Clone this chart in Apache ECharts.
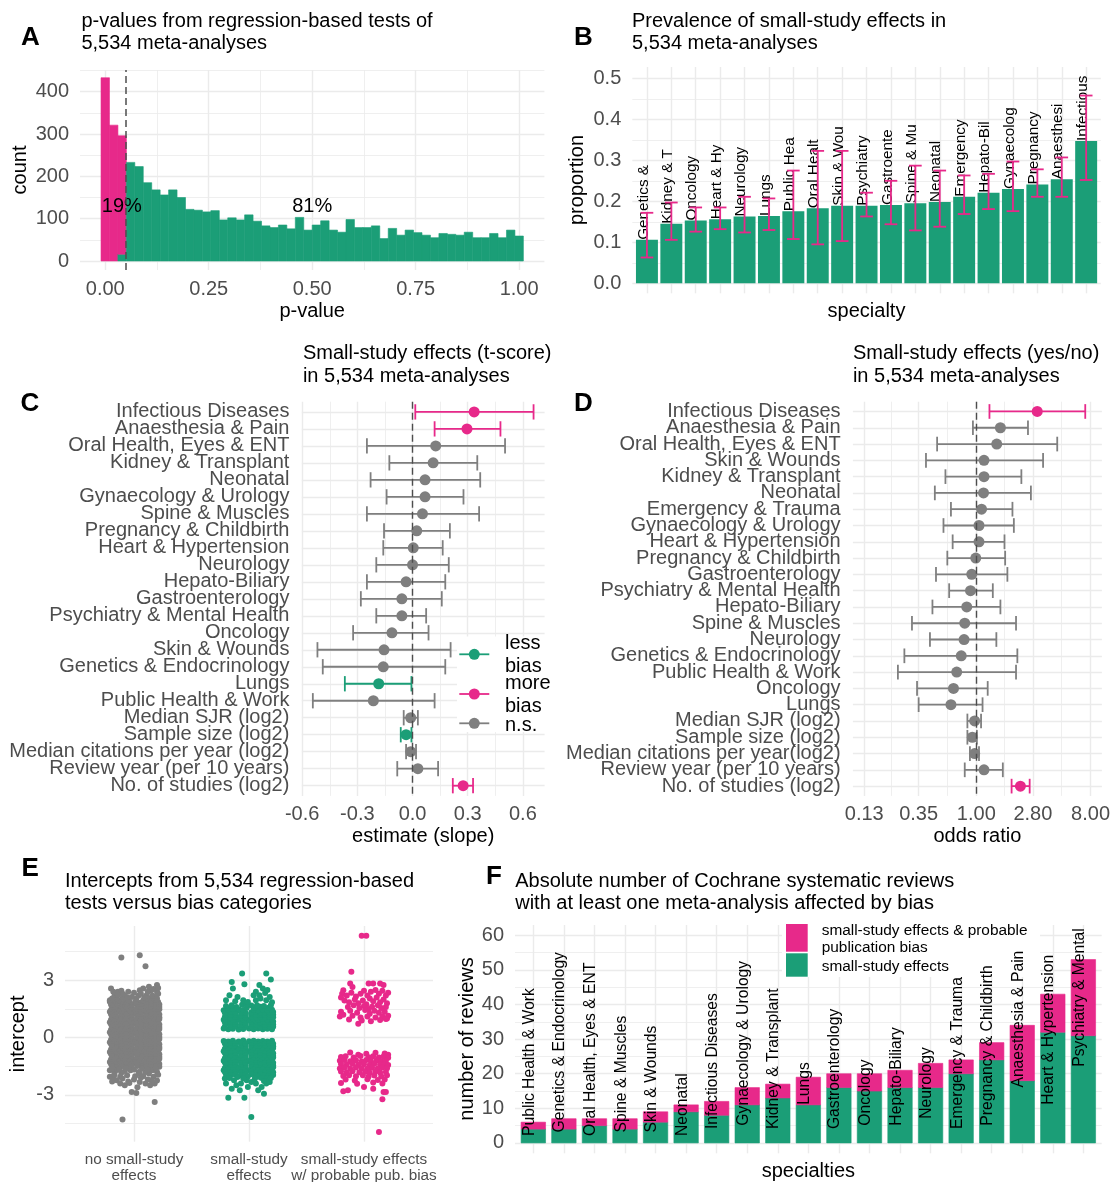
<!DOCTYPE html>
<html>
<head>
<meta charset="utf-8">
<title>Small-study effects in Cochrane meta-analyses</title>
<script src="https://cdn.jsdelivr.net/npm/echarts@6.0.0/dist/echarts.min.js"></script>
<style>
  html, body { margin: 0; padding: 0; background: #ffffff; }
  #chart { width: 1110px; height: 1182px; }
</style>
</head>
<body>
<div id="chart"></div>
<script>
// ---------------- Panel A: p-values of the regression tests (50 bins of width 1/49, centred on k/49)
const aSignificant = [433, 321, 280];   // p < 0.05, first three bins
const aNotSignificant = [0, 0, 16, 233, 223, 185, 168, 156, 168, 150, 122, 120, 116, 119, 97, 102, 97, 109, 94, 83,
  79, 85, 76, 103, 73, 85, 95, 73, 68, 98, 79, 79, 83, 53, 77, 61, 73, 67, 61, 55,
  65, 63, 61, 68, 55, 55, 65, 55, 73, 59];
const aTicksX = [0, 0.25, 0.5, 0.75, 1], aMinorX = [0.125, 0.375, 0.625, 0.875];
const aTicksY = [0, 100, 200, 300, 400], aMinorY = [50, 150, 250, 350, 450];

// ---------------- Panel B: prevalence of small-study effects by specialty
const bSpecialties = ['Genetics & Endocrinology', 'Kidney & Transplant', 'Oncology', 'Heart & Hypertension', 'Neurology',
  'Lungs', 'Public Health & Work', 'Oral Health, Eyes & ENT', 'Skin & Wounds', 'Psychiatry & Mental Health',
  'Gastroenterology', 'Spine & Muscles', 'Neonatal', 'Emergency & Trauma', 'Hepato-Biliary',
  'Gynaecology & Urology', 'Pregnancy & Childbirth', 'Anaesthesia & Pain', 'Infectious Diseases'];
const bProportion = [0.106, 0.145, 0.153, 0.156, 0.163, 0.164, 0.176, 0.183, 0.189, 0.189, 0.191, 0.195, 0.198, 0.211, 0.221, 0.230, 0.241, 0.254, 0.347];
const bLower = [0.063, 0.106, 0.126, 0.132, 0.124, 0.130, 0.108, 0.095, 0.103, 0.163, 0.144, 0.129, 0.138, 0.169, 0.181, 0.176, 0.211, 0.211, 0.252];
const bUpper = [0.172, 0.197, 0.185, 0.185, 0.211, 0.207, 0.275, 0.323, 0.323, 0.221, 0.250, 0.287, 0.275, 0.263, 0.267, 0.297, 0.278, 0.307, 0.458];
const bTicksY = [0, 0.1, 0.2, 0.3, 0.4, 0.5], bMinorY = [0.05, 0.15, 0.25, 0.35, 0.45];

// ---------------- Panel C: meta-regression of the t-score
const cLabels = ['Infectious Diseases', 'Anaesthesia & Pain', 'Oral Health, Eyes & ENT', 'Kidney & Transplant', 'Neonatal',
  'Gynaecology & Urology', 'Spine & Muscles', 'Pregnancy & Childbirth', 'Heart & Hypertension', 'Neurology',
  'Hepato-Biliary', 'Gastroenterology', 'Psychiatry & Mental Health', 'Oncology', 'Skin & Wounds',
  'Genetics & Endocrinology', 'Lungs', 'Public Health & Work', 'Median SJR (log2)', 'Sample size (log2)',
  'Median citations per year (log2)', 'Review year (per 10 years)', 'No. of studies (log2)'];
const cEstimate = [0.335, 0.296, 0.126, 0.112, 0.068, 0.068, 0.054, 0.023, 0.004, 0.0, -0.035, -0.058, -0.058, -0.112, -0.155, -0.159, -0.184, -0.213, -0.010, -0.035, -0.010, 0.029, 0.275];
const cLower = [0.015, 0.120, -0.248, -0.126, -0.228, -0.141, -0.248, -0.155, -0.159, -0.197, -0.248, -0.281, -0.197, -0.323, -0.517, -0.488, -0.368, -0.542, -0.048, -0.064, -0.035, -0.083, 0.219];
const cUpper = [0.658, 0.478, 0.503, 0.352, 0.368, 0.277, 0.362, 0.203, 0.164, 0.197, 0.178, 0.159, 0.074, 0.087, 0.207, 0.178, -0.006, 0.120, 0.029, -0.006, 0.019, 0.139, 0.329];
const cEffect = ['more', 'more', 'ns', 'ns', 'ns', 'ns', 'ns', 'ns', 'ns', 'ns', 'ns', 'ns', 'ns', 'ns', 'ns', 'ns', 'less', 'ns', 'ns', 'less', 'ns', 'ns', 'more'];
const cTicksX = [-0.6, -0.3, 0, 0.3, 0.6], cMinorX = [-0.45, -0.15, 0.15, 0.45];

// ---------------- Panel D: logistic meta-regression (odds ratios)
const dLabels = ['Infectious Diseases', 'Anaesthesia & Pain', 'Oral Health, Eyes & ENT', 'Skin & Wounds', 'Kidney & Transplant',
  'Neonatal', 'Emergency & Trauma', 'Gynaecology & Urology', 'Heart & Hypertension', 'Pregnancy & Childbirth',
  'Gastroenterology', 'Psychiatry & Mental Health', 'Hepato-Biliary', 'Spine & Muscles', 'Neurology',
  'Genetics & Endocrinology', 'Public Health & Work', 'Oncology', 'Lungs', 'Median SJR (log2)',
  'Sample size (log2)', 'Median citations per year(log2)', 'Review year (per 10 years)', 'No. of studies (log2)'];
const dOddsRatio = [3.03, 1.55, 1.45, 1.15, 1.15, 1.14, 1.10, 1.05, 1.05, 0.99, 0.92, 0.90, 0.84, 0.81, 0.80, 0.76, 0.70, 0.66, 0.63, 0.97, 0.93, 0.97, 1.15, 2.23];
const dLower = [1.27, 0.94, 0.49, 0.40, 0.57, 0.47, 0.63, 0.55, 0.65, 0.59, 0.48, 0.61, 0.45, 0.31, 0.43, 0.27, 0.24, 0.34, 0.35, 0.85, 0.85, 0.89, 0.81, 1.90];
const dUpper = [7.26, 2.56, 4.36, 3.37, 2.27, 2.70, 1.93, 1.98, 1.67, 1.69, 1.76, 1.35, 1.55, 2.06, 1.44, 2.11, 2.06, 1.23, 1.12, 1.09, 1.01, 1.05, 1.62, 2.64];
const dEffect = ['more', 'ns', 'ns', 'ns', 'ns', 'ns', 'ns', 'ns', 'ns', 'ns', 'ns', 'ns', 'ns', 'ns', 'ns', 'ns', 'ns', 'ns', 'ns', 'ns', 'ns', 'ns', 'ns', 'more'];
const dTicksOR = [0.13, 0.35, 1, 2.8, 8];

// ---------------- Panel E: intercepts by bias category, [jitter, intercept]
const eCategories = ['no small-study\neffects', 'small-study\neffects', 'small-study effects\nw/ probable pub. bias'];
const eTicksY = [-3, 0, 3], eMinorY = [-4.5, -1.5, 1.5, 4.5];
const eNoSmallStudy = [
  [-0.21,1.88],[-0.17,1.84],[-0.13,1.89],[-0.08,1.85],[-0.04,1.86],[0.01,1.88],[0.05,1.83],[0.09,1.87],[0.13,1.84],[0.17,1.89],[0.21,1.86],
  [-0.2,1.74],[-0.16,1.71],[-0.11,1.75],[-0.07,1.72],[-0.02,1.73],[0.02,1.76],[0.06,1.71],[0.11,1.74],[0.15,1.72],[0.19,1.75],[0.22,1.73],
  [-0.19,1.58],[-0.15,1.62],[-0.11,1.57],[-0.06,1.61],[-0.02,1.6],[0.03,1.58],[0.07,1.63],[0.11,1.59],[0.15,1.62],[0.19,1.57],[0.22,1.6],
  [-0.2,1.45],[-0.16,1.49],[-0.11,1.46],[-0.07,1.48],[-0.02,1.44],[0.02,1.47],[0.06,1.5],[0.11,1.45],[0.15,1.48],[0.19,1.46],[0.22,1.49],
  [-0.21,1.36],[-0.17,1.32],[-0.13,1.35],[-0.08,1.31],[-0.04,1.34],[0.01,1.37],[0.05,1.33],[0.09,1.35],[0.13,1.32],[0.17,1.36],[0.21,1.34],
  [-0.2,1.22],[-0.16,1.19],[-0.11,1.23],[-0.07,1.2],[-0.02,1.21],[0.02,1.24],[0.06,1.19],[0.11,1.22],[0.15,1.2],[0.19,1.23],[0.22,1.21],
  [-0.19,1.1],[-0.15,1.06],[-0.11,1.09],[-0.06,1.05],[-0.02,1.08],[0.03,1.11],[0.07,1.07],[0.11,1.1],[0.15,1.05],[0.19,1.09],[0.22,1.07],
  [-0.2,0.93],[-0.16,0.97],[-0.11,0.94],[-0.07,0.96],[-0.02,0.92],[0.02,0.95],[0.06,0.98],[0.11,0.93],[0.15,0.96],[0.19,0.94],[0.22,0.97],
  [-0.21,0.8],[-0.17,0.84],[-0.13,0.81],[-0.08,0.85],[-0.04,0.82],[0.01,0.79],[0.05,0.83],[0.09,0.8],[0.13,0.84],[0.17,0.81],[0.21,0.83],
  [-0.2,0.7],[-0.16,0.67],[-0.11,0.71],[-0.07,0.68],[-0.02,0.69],[0.02,0.72],[0.06,0.67],[0.11,0.7],[0.15,0.68],[0.19,0.71],[0.22,0.69],
  [-0.19,0.58],[-0.15,0.54],[-0.11,0.57],[-0.06,0.53],[-0.02,0.56],[0.03,0.59],[0.07,0.55],[0.11,0.58],[0.15,0.53],[0.19,0.57],[0.22,0.55],
  [-0.2,0.41],[-0.16,0.45],[-0.11,0.42],[-0.07,0.44],[-0.02,0.4],[0.02,0.43],[0.06,0.46],[0.11,0.41],[0.15,0.44],[0.19,0.42],[0.22,0.45],
  [-0.21,0.28],[-0.17,0.32],[-0.13,0.29],[-0.08,0.33],[-0.04,0.3],[0.01,0.27],[0.05,0.31],[0.09,0.28],[0.13,0.32],[0.17,0.29],[0.21,0.31],
  [-0.2,0.18],[-0.16,0.15],[-0.11,0.19],[-0.07,0.16],[-0.02,0.17],[0.02,0.2],[0.06,0.15],[0.11,0.18],[0.15,0.16],[0.19,0.19],[0.22,0.17],
  [-0.19,0.06],[-0.15,0.02],[-0.11,0.05],[-0.06,0.01],[-0.02,0.04],[0.03,0.07],[0.07,0.03],[0.11,0.06],[0.15,0.01],[0.19,0.05],[0.22,0.03],
  [-0.2,-0.11],[-0.16,-0.07],[-0.11,-0.1],[-0.07,-0.08],[-0.02,-0.12],[0.02,-0.09],[0.06,-0.06],[0.11,-0.11],[0.15,-0.08],[0.19,-0.1],[0.22,-0.07],
  [-0.21,-0.24],[-0.17,-0.2],[-0.13,-0.23],[-0.08,-0.19],[-0.04,-0.22],[0.01,-0.25],[0.05,-0.21],[0.09,-0.24],[0.13,-0.2],[0.17,-0.23],[0.21,-0.21],
  [-0.2,-0.34],[-0.16,-0.37],[-0.11,-0.33],[-0.07,-0.36],[-0.02,-0.35],[0.02,-0.32],[0.06,-0.37],[0.11,-0.34],[0.15,-0.36],[0.19,-0.33],[0.22,-0.35],
  [-0.19,-0.46],[-0.15,-0.5],[-0.11,-0.47],[-0.06,-0.51],[-0.02,-0.48],[0.03,-0.45],[0.07,-0.49],[0.11,-0.46],[0.15,-0.51],[0.19,-0.47],[0.22,-0.49],
  [-0.2,-0.63],[-0.16,-0.59],[-0.11,-0.62],[-0.07,-0.6],[-0.02,-0.64],[0.02,-0.61],[0.06,-0.58],[0.11,-0.63],[0.15,-0.6],[0.19,-0.62],[0.22,-0.59],
  [-0.21,-0.76],[-0.17,-0.72],[-0.13,-0.75],[-0.08,-0.71],[-0.04,-0.74],[0.01,-0.77],[0.05,-0.73],[0.09,-0.76],[0.13,-0.72],[0.17,-0.75],[0.21,-0.73],
  [-0.2,-0.86],[-0.16,-0.89],[-0.11,-0.85],[-0.07,-0.88],[-0.02,-0.87],[0.02,-0.84],[0.06,-0.89],[0.11,-0.86],[0.15,-0.88],[0.19,-0.85],[0.22,-0.87],
  [-0.19,-0.98],[-0.15,-1.02],[-0.11,-0.99],[-0.06,-1.03],[-0.02,-1.0],[0.03,-0.97],[0.07,-1.01],[0.11,-0.98],[0.15,-1.03],[0.19,-0.99],[0.22,-1.01],
  [-0.2,-1.15],[-0.16,-1.11],[-0.11,-1.14],[-0.07,-1.12],[-0.02,-1.16],[0.02,-1.13],[0.06,-1.1],[0.11,-1.15],[0.15,-1.12],[0.19,-1.14],[0.22,-1.11],
  [-0.21,-1.28],[-0.17,-1.24],[-0.13,-1.27],[-0.08,-1.23],[-0.04,-1.26],[0.01,-1.29],[0.05,-1.25],[0.09,-1.28],[0.13,-1.24],[0.17,-1.27],[0.21,-1.25],
  [-0.2,-1.38],[-0.16,-1.41],[-0.11,-1.37],[-0.07,-1.4],[-0.02,-1.39],[0.02,-1.36],[0.06,-1.41],[0.11,-1.38],[0.15,-1.4],[0.19,-1.37],[0.22,-1.39],
  [-0.19,-1.5],[-0.15,-1.54],[-0.11,-1.51],[-0.06,-1.55],[-0.02,-1.52],[0.03,-1.49],[0.07,-1.53],[0.11,-1.5],[0.15,-1.55],[0.19,-1.51],[0.22,-1.53],
  [-0.2,2.57],[-0.14,2.4],[-0.11,2.45],[-0.05,2.4],[0.05,2.48],[0.08,2.57],[0.13,2.66],[0.15,2.48],[0.2,2.75],[0.2,2.4],
  [0.11,2.22],[0.02,2.05],[-0.08,2.22],[-0.17,2.17],[-0.13,1.96],[-0.21,1.96],[-0.05,1.96],[0.08,1.96],[0.18,2.13],[0.14,2.05],
  [-0.02,2.13],[-0.18,2.4],[0.04,2.2],[-0.1,2.08],[0.19,1.98],[0.11,2.03],[-0.15,2.06],[0.21,2.3],
  [-0.19,2.05],[-0.1,2.3],[0.0,2.35],[0.06,2.3],[0.12,2.4],[0.17,2.55],[0.21,2.6],[0.09,2.12],[-0.14,2.25],[-0.06,2.1],[0.16,2.2],[0.2,2.05],
  [-0.11,4.2],[0.05,4.32],[0.1,3.74],
  [-0.21,-1.71],[-0.18,-2.06],[-0.15,-2.24],[-0.12,-2.41],[-0.08,-2.5],[-0.04,-2.38],[-0.02,-2.85],[0.02,-2.9],[0.05,-2.33],[0.1,-2.41],
  [0.14,-2.5],[0.17,-2.06],[0.2,-1.8],[-0.17,-1.85],[0.08,-2.03],[0.01,-2.03],[-0.06,-1.98],[-0.11,-1.85],[0.13,-1.89],[0.15,-2.24],
  [-0.03,-1.71],[0.04,-1.8],[0.1,-1.8],[-0.12,-2.06],[-0.21,-2.06],[0.05,-1.89],[0.18,-2.41],[-0.08,-1.75],[0.16,-1.72],[-0.15,-1.7],
  [0.21,-1.95],[0.0,-2.2],[-0.19,-2.3],
  [-0.19,-1.63],[-0.13,-1.66],[-0.07,-1.62],[0.0,-1.68],[0.07,-1.64],[0.12,-1.67],[0.19,-1.64],[-0.17,-1.95],[-0.1,-2.15],[0.06,-2.1],
  [0.12,-2.2],[0.2,-2.25],[-0.05,-2.3],[0.03,-2.6],
  [0.18,-3.38],[-0.1,-4.29]
];
const eSmallStudy = [
  [-0.22,-0.18],[-0.18,-0.21],[-0.14,-0.17],[-0.09,-0.2],[-0.05,-0.16],[0.0,-0.19],[0.04,-0.17],[0.08,-0.21],[0.12,-0.18],[0.16,-0.2],[0.2,-0.17],
  [-0.21,-0.31],[-0.16,-0.34],[-0.12,-0.3],[-0.07,-0.33],[-0.03,-0.32],[0.02,-0.29],[0.06,-0.34],[0.1,-0.31],[0.14,-0.33],[0.18,-0.3],[0.21,-0.32],
  [-0.2,-0.43],[-0.16,-0.47],[-0.12,-0.44],[-0.07,-0.48],[-0.03,-0.45],[0.02,-0.42],[0.06,-0.46],[0.1,-0.43],[0.14,-0.48],[0.18,-0.44],[0.21,-0.46],
  [-0.21,-0.59],[-0.16,-0.55],[-0.12,-0.58],[-0.07,-0.56],[-0.03,-0.6],[0.02,-0.57],[0.06,-0.54],[0.1,-0.59],[0.14,-0.56],[0.18,-0.58],[0.21,-0.55],
  [-0.22,-0.72],[-0.18,-0.68],[-0.14,-0.71],[-0.09,-0.67],[-0.05,-0.7],[0.0,-0.73],[0.04,-0.69],[0.08,-0.72],[0.12,-0.68],[0.16,-0.71],[0.2,-0.69],
  [-0.21,-0.81],[-0.16,-0.84],[-0.12,-0.8],[-0.07,-0.83],[-0.03,-0.82],[0.02,-0.79],[0.06,-0.84],[0.1,-0.81],[0.14,-0.83],[0.18,-0.8],[0.21,-0.82],
  [-0.2,-0.93],[-0.16,-0.97],[-0.12,-0.94],[-0.07,-0.98],[-0.03,-0.95],[0.02,-0.92],[0.06,-0.96],[0.1,-0.93],[0.14,-0.98],[0.18,-0.94],[0.21,-0.96],
  [-0.21,-1.09],[-0.16,-1.05],[-0.12,-1.08],[-0.07,-1.06],[-0.03,-1.1],[0.02,-1.07],[0.06,-1.04],[0.1,-1.09],[0.14,-1.06],[0.18,-1.08],[0.21,-1.05],
  [-0.22,-1.22],[-0.18,-1.18],[-0.14,-1.21],[-0.09,-1.17],[-0.05,-1.2],[0.0,-1.23],[0.04,-1.19],[0.08,-1.22],[0.12,-1.18],[0.16,-1.21],[0.2,-1.19],
  [-0.21,-1.31],[-0.16,-1.34],[-0.12,-1.3],[-0.07,-1.33],[-0.03,-1.32],[0.02,-1.29],[0.06,-1.34],[0.1,-1.31],[0.14,-1.33],[0.18,-1.3],[0.21,-1.32],
  [-0.2,-1.43],[-0.16,-1.47],[-0.12,-1.44],[-0.07,-1.48],[-0.03,-1.45],[0.02,-1.42],[0.06,-1.46],[0.1,-1.43],[0.14,-1.48],[0.18,-1.44],[0.21,-1.46],
  [-0.21,-1.59],[-0.16,-1.55],[-0.12,-1.58],[-0.07,-1.56],[-0.03,-1.6],[0.02,-1.57],[0.06,-1.54],[0.1,-1.59],[0.14,-1.56],[0.18,-1.58],[0.21,-1.55],
  [-0.22,-1.72],[-0.18,-1.68],[-0.14,-1.71],[-0.09,-1.67],[-0.05,-1.7],[0.0,-1.73],[0.04,-1.69],[0.08,-1.72],[0.12,-1.68],[0.16,-1.71],[0.2,-1.69],
  [-0.21,-1.81],[-0.16,-1.84],[-0.12,-1.8],[-0.07,-1.83],[-0.03,-1.82],[0.02,-1.79],[0.06,-1.84],[0.1,-1.81],[0.14,-1.83],[0.18,-1.8],[0.21,-1.82],
  [-0.2,-1.93],[-0.16,-1.97],[-0.12,-1.94],[-0.07,-1.98],[-0.03,-1.95],[0.02,-1.92],[0.06,-1.96],[0.1,-1.93],[0.14,-1.98],[0.18,-1.94],[0.21,-1.96],
  [-0.19,-2.05],[-0.1,-2.07],[-0.01,-2.04],[0.08,-2.06],[0.17,-2.03],
  [-0.2,-2.41],[-0.15,-2.68],[-0.11,-2.5],[-0.07,-2.41],[-0.02,-2.24],[0.02,-2.33],[0.06,-2.41],[0.11,-2.59],[0.15,-2.41],[0.18,-2.33],
  [-0.08,-2.76],[-0.01,-2.59],[0.08,-2.76],[0.15,-2.15],[-0.21,-2.15],[0.19,-2.12],[-0.17,-2.12],[-0.05,-2.14],[0.05,-2.16],[0.11,-2.12],
  [-0.13,-2.24],[0.13,-2.28],
  [-0.18,-3.15],[-0.04,-3.15],[0.13,-2.94],[0.02,-4.16],
  [-0.22,0.47],[-0.18,0.43],[-0.14,0.46],[-0.09,0.42],[-0.05,0.45],[0.0,0.48],[0.04,0.44],[0.08,0.47],[0.12,0.43],[0.16,0.46],[0.2,0.44],
  [-0.21,0.58],[-0.16,0.55],[-0.12,0.59],[-0.07,0.56],[-0.03,0.57],[0.02,0.6],[0.06,0.55],[0.1,0.58],[0.14,0.56],[0.18,0.59],[0.21,0.57],
  [-0.2,0.72],[-0.16,0.68],[-0.12,0.71],[-0.07,0.67],[-0.03,0.7],[0.02,0.73],[0.06,0.69],[0.1,0.72],[0.14,0.67],[0.18,0.71],[0.21,0.69],
  [-0.21,0.8],[-0.16,0.84],[-0.12,0.81],[-0.07,0.83],[-0.03,0.79],[0.02,0.82],[0.06,0.85],[0.1,0.8],[0.14,0.83],[0.18,0.81],[0.21,0.84],
  [-0.22,0.93],[-0.18,0.97],[-0.14,0.94],[-0.09,0.98],[-0.05,0.95],[0.0,0.92],[0.04,0.96],[0.08,0.93],[0.12,0.97],[0.16,0.94],[0.2,0.96],
  [-0.21,1.08],[-0.16,1.05],[-0.12,1.09],[-0.07,1.06],[-0.03,1.07],[0.02,1.1],[0.06,1.05],[0.1,1.08],[0.14,1.06],[0.18,1.09],[0.21,1.07],
  [-0.2,1.22],[-0.16,1.18],[-0.12,1.21],[-0.07,1.17],[-0.03,1.2],[0.02,1.23],[0.06,1.19],[0.1,1.22],[0.14,1.18],[0.18,1.21],[0.21,1.19],
  [-0.21,1.3],[-0.16,1.34],[-0.12,1.31],[-0.07,1.33],[-0.03,1.29],[0.02,1.32],[0.06,1.35],[0.1,1.3],[0.14,1.33],[0.18,1.31],[0.21,1.34],
  [-0.22,1.43],[-0.18,1.47],[-0.09,1.48],[-0.05,1.45],[0.04,1.46],[0.08,1.43],[0.12,1.47],[0.16,1.44],[0.2,1.46],[-0.14,1.5],
  [-0.19,1.57],[-0.11,1.6],[-0.02,1.55],[0.05,1.58],[0.1,1.62],[0.17,1.56],
  [-0.2,1.66],[-0.15,1.7],[-0.06,1.72],[0.02,1.68],[0.07,1.7],[0.13,1.66],[0.19,1.7],[-0.02,1.75],
  [-0.15,2.92],[-0.06,3.36],[0.15,3.36],[0.19,3.04],[-0.04,2.8],[0.09,2.75],[0.12,2.57],[0.06,2.4],[0.04,2.22],[0.09,2.22],
  [0.14,2.34],[0.18,2.13],[-0.14,2.57],[-0.17,2.22],[-0.1,2.13],[-0.05,1.96],[-0.01,1.87],[-0.2,1.96],[0.15,1.96],[0.06,1.96],
  [0.2,1.85],[-0.12,1.9],[0.1,2.05],[0.16,2.5]
];
const eSmallStudyPubBias = [
  [-0.18,2.48],[-0.19,2.3],[-0.12,2.83],[-0.1,2.65],[0.04,2.83],[0.08,2.83],[0.14,2.83],[0.17,2.75],
  [-0.2,2.1],[-0.15,2.2],[-0.11,2.35],[-0.07,2.15],[-0.03,2.3],[0.0,2.45],[0.03,2.2],[0.06,2.4],[0.1,2.5],[0.13,2.3],[0.16,2.45],[0.19,2.2],[0.21,2.35],
  [-0.17,1.95],[-0.13,1.85],[-0.08,2.0],[-0.05,1.8],[-0.01,1.95],[0.02,1.75],[0.05,2.05],[0.08,1.9],[0.11,2.1],[0.14,1.85],[0.17,2.0],[0.2,1.8],
  [-0.14,1.6],[-0.09,1.7],[-0.04,1.55],[0.0,1.65],[0.04,1.5],[0.07,1.62],[0.12,1.7],[0.15,1.55],[0.19,1.6],
  [-0.2,1.35],[-0.12,1.4],[-0.06,1.3],[0.01,1.45],[0.05,1.25],[0.09,1.4],[0.13,1.3],[0.18,1.35],[0.21,1.15],
  [-0.21,1.1],[-0.18,1.2],[-0.1,1.15],[-0.03,1.05],[0.03,1.1],[0.1,1.05],[0.16,1.12],[0.2,1.0],
  [-0.13,0.95],[-0.02,0.9],[0.06,0.85],[0.14,0.92],[-0.05,0.73],[0.19,0.98],
  [-0.11,3.45],[-0.02,5.34],[0.02,5.34],
  [-0.12,-0.78],[0.02,-0.85],[0.1,-0.8],[0.18,-0.84],[0.21,-0.9],[-0.05,-0.9],
  [-0.2,-1.02],[-0.16,-0.98],[-0.09,-1.05],[-0.03,-0.97],[0.04,-1.03],[0.08,-0.98],[0.13,-1.04],[0.17,-0.99],[0.21,-1.06],
  [-0.21,-1.22],[-0.17,-1.18],[-0.12,-1.24],[-0.07,-1.19],[-0.02,-1.25],[0.02,-1.17],[0.06,-1.23],[0.11,-1.2],[0.15,-1.26],[0.19,-1.21],
  [-0.2,-1.38],[-0.15,-1.43],[-0.1,-1.37],[-0.05,-1.42],[0.0,-1.4],[0.05,-1.44],[0.09,-1.37],[0.14,-1.41],[0.18,-1.39],[0.21,-1.44],
  [-0.21,-1.62],[-0.17,-1.58],[-0.12,-1.63],[-0.07,-1.57],[-0.02,-1.61],[0.03,-1.64],[0.07,-1.58],[0.12,-1.62],[0.16,-1.57],[0.2,-1.61],
  [-0.2,-1.78],[-0.15,-1.83],[-0.1,-1.77],[-0.04,-1.82],[0.01,-1.79],[0.05,-1.84],[0.1,-1.78],[0.14,-1.83],[0.19,-1.8],
  [-0.18,-2.02],[-0.13,-1.97],[-0.07,-2.03],[-0.01,-1.98],[0.04,-2.04],[0.09,-1.99],[0.15,-2.03],[0.2,-1.98],
  [-0.16,-2.2],[-0.08,-2.25],[0.03,-2.18],[0.12,-2.23],[0.18,-2.2],
  [-0.2,-2.38],[-0.06,-2.42],[0.08,-2.36],[0.16,-2.41],
  [-0.18,-2.82],[-0.14,-2.76],[0.0,-2.59],[0.08,-2.68],[0.17,-2.85],[0.19,-2.85],[0.16,-3.24],[0.13,-4.95]
];

// ---------------- Panel F: reviews affected by bias, per specialty
const fSpecialties = ['Public Health & Work', 'Genetics & Endocrinology', 'Oral Health, Eyes & ENT', 'Spine & Muscles', 'Skin & Wounds',
  'Neonatal', 'Infectious Diseases', 'Gynaecology & Urology', 'Kidney & Transplant', 'Lungs', 'Gastroenterology', 'Oncology',
  'Hepato-Biliary', 'Neurology', 'Emergency & Trauma', 'Pregnancy & Childbirth', 'Anaesthesia & Pain', 'Heart & Hypertension',
  'Psychiatry & Mental'];
const fSmallStudy = [4, 4, 5, 4, 6, 9, 8, 11, 13, 11, 16, 15, 16, 16, 20, 24, 18, 32, 31];
const fPubBias = [2, 3, 2, 3, 3, 2, 4, 5, 4, 8, 4, 5, 5, 7, 4, 5, 16, 11, 22];
const fLabelBase = [2, 3, 2, 3, 3, 2, 4, 5, 4, 11, 4, 5, 5, 7, 4, 5, 16, 11, 22];
const fTicksY = [0, 10, 20, 30, 40, 50, 60], fMinorY = [5, 15, 25, 35, 45, 55];

// ---------------- styling
const FONT = "'Liberation Sans', Arial, Helvetica, sans-serif";
const PINK = '#e7298a', GREEN = '#1b9e77', GREY = '#7f7f7f', TICK_GREY = '#4d4d4d';
const EFFECT_COLOR = {more: PINK, less: GREEN, ns: GREY};

// panel rectangles in pixels (left, top, right, bottom)
const box = {
  A: {l: 80, t: 70, r: 544.4, b: 270},
  B: {l: 632.3, t: 67, r: 1100.8, b: 293.3},
  C: {l: 301.8, t: 401.7, r: 544.6, b: 795.9},
  D: {l: 852.9, t: 401.7, r: 1101.9, b: 795.9},
  E: {l: 65, t: 926, r: 433, b: 1141.7},
  F: {l: 515, t: 925, r: 1101.7, b: 1153.3}
};

const grids = [], xAxes = [], yAxes = [], series = [], elements = [];

function makeAxis(isX, gi, o, minor) {
  const labelOn = !minor && o.label;
  return {
    type: 'value', gridIndex: gi, min: o.min, max: o.max, inverse: !!o.inverse,
    position: isX ? (minor ? 'top' : 'bottom') : (minor ? 'right' : 'left'),
    axisLine: {show: false, onZero: false},
    axisTick: {show: false, customValues: o.ticks},
    axisLabel: labelOn ? Object.assign({show: true, customValues: o.ticks, color: TICK_GREY, fontFamily: FONT,
      fontSize: 20, margin: isX ? 9 : 11, showMinLabel: true, showMaxLabel: true, hideOverlap: false}, o.label) : {show: false},
    splitLine: {show: true, lineStyle: {color: '#ebebeb', width: minor ? 0.8 : 1.4}},
    splitArea: {show: false},
    silent: true
  };
}
function addPanel(b, xo, yo) {
  const gi = grids.length;
  grids.push({left: b.l, top: b.t, width: b.r - b.l, height: b.b - b.t, containLabel: false, outerBoundsMode: 'none'});
  const xi = xAxes.length;
  xAxes.push(makeAxis(true, gi, xo, false));
  if (xo.minor) xAxes.push(makeAxis(true, gi, Object.assign({}, xo, {ticks: xo.minor}), true));
  const yi = yAxes.length;
  yAxes.push(makeAxis(false, gi, yo, false));
  if (yo.minor) yAxes.push(makeAxis(false, gi, Object.assign({}, yo, {ticks: yo.minor}), true));
  return {xi, yi};
}
const indices = n => Array.from({length: n}, (_, i) => i);

function rectBetween(api, x0, x1, y0, y1, fill, seam) {
  const a = api.coord([x0, y1]), c = api.coord([x1, y0]);
  const style = {fill};
  if (seam) { style.stroke = fill; style.lineWidth = 0.6; }
  return {type: 'rect', shape: {x: Math.min(a[0], c[0]), y: Math.min(a[1], c[1]),
    width: Math.abs(c[0] - a[0]), height: Math.abs(c[1] - a[1])}, style};
}
function dashedLine(p, xVal) {
  return {type: 'line', xAxisIndex: p.xi, yAxisIndex: p.yi, data: [], z: 2, silent: true,
    markLine: {silent: true, animation: false, symbol: ['none', 'none'], label: {show: false},
      lineStyle: {color: '#4d4d4d', width: 1.4, type: [7, 4]}, emphasis: {disabled: true},
      data: [{xAxis: xVal}]}};
}
function hErrorbars(p, rows, colorOf) {
  return {type: 'custom', xAxisIndex: p.xi, yAxisIndex: p.yi, z: 3, silent: true, data: rows,
    renderItem: (params, api) => {
      const lo = api.coord([api.value(0), api.value(2)]);
      const hi = api.coord([api.value(1), api.value(2)]);
      const h = Math.abs(api.size([0, 0.9])[1]) / 2;
      const st = {stroke: colorOf(params.dataIndex), lineWidth: 1.8, fill: null};
      return {type: 'group', children: [
        {type: 'line', shape: {x1: lo[0], y1: lo[1], x2: hi[0], y2: hi[1]}, style: st},
        {type: 'line', shape: {x1: lo[0], y1: lo[1] - h, x2: lo[0], y2: lo[1] + h}, style: st},
        {type: 'line', shape: {x1: hi[0], y1: hi[1] - h, x2: hi[0], y2: hi[1] + h}, style: st}
      ]};
    }};
}
// row names of a forest plot, right-aligned against the panel's left edge
function rowLabels(p, labels, xMin, gap) {
  return {type: 'custom', xAxisIndex: p.xi, yAxisIndex: p.yi, z: 3, silent: true, clip: false,
    data: labels.map((_, i) => [xMin, i]),
    renderItem: (params, api) => {
      const pt = api.coord([api.value(0), api.value(1)]);
      return {type: 'text', x: pt[0] - gap, y: pt[1],
        style: {text: labels[params.dataIndex], fill: TICK_GREY, fontSize: 20, fontFamily: FONT,
          align: 'right', verticalAlign: 'middle'}};
    }};
}
function textEl(x, y, text, o) {
  o = o || {};
  return {type: 'text', x, y, rotation: o.rotate ? Math.PI / 2 : 0, z: o.z || 20, silent: true,
    style: {text, fill: o.color || '#000', fontSize: o.size || 20, fontWeight: o.weight || 'normal',
      fontFamily: FONT, lineHeight: o.lineHeight || undefined, align: o.align || 'left', verticalAlign: o.va || 'top'}};
}

// ======== Panel A
const pA = addPanel(box.A,
  {min: -0.061, max: 1.061, ticks: aTicksX, minor: aMinorX, label: {formatter: v => v.toFixed(2)}},
  {min: -21.3, max: 451.3, ticks: aTicksY, minor: aMinorY, label: {formatter: v => String(v)}});
const binWidth = 1 / 49;
series.push({
  type: 'custom', xAxisIndex: pA.xi, yAxisIndex: pA.yi, z: 2, silent: true,
  data: aNotSignificant.map((g, i) => [i * binWidth, g, aSignificant[i] || 0]),
  renderItem: (params, api) => {
    const x = api.value(0), g = api.value(1), s = api.value(2), kids = [];
    if (g > 0) kids.push(rectBetween(api, x - binWidth / 2, x + binWidth / 2, 0, g, GREEN, true));
    if (s > 0) kids.push(rectBetween(api, x - binWidth / 2, x + binWidth / 2, g, g + s, PINK, true));
    return {type: 'group', children: kids};
  },
  markLine: {silent: true, animation: false, symbol: ['none', 'none'], label: {show: false},
    lineStyle: {color: '#4d4d4d', width: 1.5, type: [7, 4]}, emphasis: {disabled: true},
    data: [{xAxis: 0.05}]}
});
// share of tests with p < 0.05 vs the rest
const aSigTotal = aSignificant.reduce((s, v) => s + v, 0);
const aAll = aSigTotal + aNotSignificant.reduce((s, v) => s + v, 0);
const aSigPct = Math.round(100 * aSigTotal / aAll);
const aNotes = [[0.04, 128, aSigPct + '%'], [0.5, 128, (100 - aSigPct) + '%']];
series.push({
  type: 'custom', xAxisIndex: pA.xi, yAxisIndex: pA.yi, z: 4, silent: true,
  data: aNotes.map(n => [n[0], n[1]]),
  renderItem: (params, api) => {
    const pt = api.coord([api.value(0), api.value(1)]);
    return {type: 'text', x: pt[0], y: pt[1], style: {text: aNotes[params.dataIndex][2], fill: '#000',
      fontSize: 20, fontFamily: FONT, align: 'center', verticalAlign: 'middle'}};
  }
});

// ======== Panel B
const pB = addPanel(box.B,
  {min: -0.6, max: 18.6, ticks: indices(bSpecialties.length)},
  {min: -0.0244, max: 0.5276, ticks: bTicksY, minor: bMinorY, label: {formatter: v => v.toFixed(1)}});
series.push({
  type: 'custom', xAxisIndex: pB.xi, yAxisIndex: pB.yi, z: 2, silent: true,
  data: bProportion.map((v, i) => [i, v]),
  renderItem: (params, api) => rectBetween(api, api.value(0) - 0.45, api.value(0) + 0.45, 0, api.value(1), GREEN)
});
series.push({
  type: 'custom', xAxisIndex: pB.xi, yAxisIndex: pB.yi, z: 3, silent: true,
  data: bProportion.map((v, i) => [i, v]),
  renderItem: (params, api) => {
    const pt = api.coord([api.value(0), api.value(1)]);
    return {type: 'text', x: pt[0] - 3.6, y: pt[1], rotation: Math.PI / 2,
      style: {text: bSpecialties[params.dataIndex].substring(0, 10), fill: '#000', fontSize: 15.3,
        fontFamily: FONT, align: 'left', verticalAlign: 'middle'}};
  }
});
series.push({
  type: 'custom', xAxisIndex: pB.xi, yAxisIndex: pB.yi, z: 4, silent: true,
  data: bProportion.map((v, i) => [i, bLower[i], bUpper[i]]),
  renderItem: (params, api) => {
    const lo = api.coord([api.value(0), api.value(1)]);
    const hi = api.coord([api.value(0), api.value(2)]);
    const w = Math.abs(api.size([0.52, 0])[0]) / 2;
    const st = {stroke: PINK, lineWidth: 1.8, fill: null};
    return {type: 'group', children: [
      {type: 'line', shape: {x1: lo[0], y1: lo[1], x2: hi[0], y2: hi[1]}, style: st},
      {type: 'line', shape: {x1: lo[0] - w, y1: lo[1], x2: lo[0] + w, y2: lo[1]}, style: st},
      {type: 'line', shape: {x1: hi[0] - w, y1: hi[1], x2: hi[0] + w, y2: hi[1]}, style: st}
    ]};
  }
});

// ======== Panel C
const cXMin = -0.602;
const pC = addPanel(box.C,
  {min: cXMin, max: 0.718, ticks: cTicksX, minor: cMinorX, label: {formatter: v => v.toFixed(1)}},
  {min: -0.6, max: cLabels.length - 0.4, inverse: true, ticks: indices(cLabels.length)});
series.push(rowLabels(pC, cLabels, cXMin, 12.4));
series.push(dashedLine(pC, 0));
series.push(hErrorbars(pC, cEstimate.map((_, i) => [cLower[i], cUpper[i], i]), i => EFFECT_COLOR[cEffect[i]]));
series.push({type: 'scatter', xAxisIndex: pC.xi, yAxisIndex: pC.yi, z: 4, silent: true, symbolSize: 11,
  data: cEstimate.map((v, i) => ({value: [v, i], itemStyle: {color: EFFECT_COLOR[cEffect[i]], opacity: 1}}))});

// ======== Panel D (log odds ratio scale)
const dTickLog = dTicksOR.map(Math.log);
const dSpan = dTickLog[dTickLog.length - 1] - dTickLog[0];
const dMinor = dTickLog.slice(1).map((v, i) => (v + dTickLog[i]) / 2);
const dXMin = dTickLog[0] - 0.05 * dSpan;
const pD = addPanel(box.D,
  {min: dXMin, max: dTickLog[dTickLog.length - 1] + 0.05 * dSpan, ticks: dTickLog, minor: dMinor,
    label: {formatter: v => Math.exp(v).toFixed(2)}},
  {min: -0.6, max: dLabels.length - 0.4, inverse: true, ticks: indices(dLabels.length)});
series.push(rowLabels(pD, dLabels, dXMin, 12.3));
series.push(dashedLine(pD, 0));
series.push(hErrorbars(pD, dOddsRatio.map((_, i) => [Math.log(dLower[i]), Math.log(dUpper[i]), i]), i => EFFECT_COLOR[dEffect[i]]));
series.push({type: 'scatter', xAxisIndex: pD.xi, yAxisIndex: pD.yi, z: 4, silent: true, symbolSize: 11,
  data: dOddsRatio.map((v, i) => ({value: [Math.log(v), i], itemStyle: {color: EFFECT_COLOR[dEffect[i]], opacity: 1}}))});

// ======== Panel E
const pE = addPanel(box.E,
  {min: -0.6, max: 2.6, ticks: [0, 1, 2],
    label: {formatter: v => eCategories[Math.round(v)], fontSize: 15.3, lineHeight: 16, margin: 9.6}},
  {min: -5.46, max: 5.85, ticks: eTicksY, minor: eMinorY, label: {formatter: v => String(v)}});
[[eNoSmallStudy, GREY], [eSmallStudy, GREEN], [eSmallStudyPubBias, PINK]].forEach(([pts, color], g) => {
  series.push({type: 'scatter', xAxisIndex: pE.xi, yAxisIndex: pE.yi, z: 3, silent: true, symbolSize: 6,
    itemStyle: {color, opacity: 1}, data: pts.map(p => [g + p[0], p[1]])});
});

// ======== Panel F
const pF = addPanel(box.F,
  {min: -0.6, max: 18.6, ticks: indices(fSpecialties.length)},
  {min: -3, max: 63, ticks: fTicksY, minor: fMinorY, label: {formatter: v => String(v)}});
series.push({
  type: 'custom', xAxisIndex: pF.xi, yAxisIndex: pF.yi, z: 2, silent: true,
  data: fSmallStudy.map((v, i) => [i, v, fPubBias[i]]),
  renderItem: (params, api) => {
    const x = api.value(0), g = api.value(1), s = api.value(2);
    return {type: 'group', children: [
      rectBetween(api, x - 0.4, x + 0.4, 0, g, GREEN, true),
      rectBetween(api, x - 0.4, x + 0.4, g, g + s, PINK, true)
    ]};
  }
});
series.push({
  type: 'custom', xAxisIndex: pF.xi, yAxisIndex: pF.yi, z: 3, silent: true,
  data: fLabelBase.map((v, i) => [i, v]),
  renderItem: (params, api) => {
    const pt = api.coord([api.value(0), api.value(1)]);
    return {type: 'text', x: pt[0] - 3.8, y: pt[1], rotation: Math.PI / 2,
      style: {text: fSpecialties[params.dataIndex], fill: '#000', fontSize: 15.7,
        fontFamily: FONT, align: 'left', verticalAlign: 'middle'}};
  }
});

// ======== panel letters, titles, axis titles
[['A', 21, 37.5], ['B', 574, 37.5], ['C', 20.5, 403.5], ['D', 574, 403.5], ['E', 21.5, 868.8], ['F', 486, 877.2]]
  .forEach(([t, x, y]) => elements.push(textEl(x, y, t, {size: 26, weight: 'bold', va: 'middle'})));
[
  [81.4, 10, 'p-values from regression-based tests of\n5,534 meta-analyses'],
  [632, 10, 'Prevalence of small-study effects in\n5,534 meta-analyses'],
  [302.9, 342.5, 'Small-study effects (t-score)\nin 5,534 meta-analyses'],
  [852.9, 342.5, 'Small-study effects (yes/no)\nin 5,534 meta-analyses'],
  [65, 870, 'Intercepts from 5,534 regression-based\ntests versus bias categories'],
  [515.2, 870, 'Absolute number of Cochrane systematic reviews\nwith at least one meta-analysis affected by bias']
].forEach(([x, y, t]) => elements.push(textEl(x, y, t, {lineHeight: 22.5})));
[
  [20.2, 170, 'count', true], [312.2, 311.5, 'p-value', false],
  [577.5, 180, 'proportion', true], [866.5, 311.5, 'specialty', false],
  [423.2, 836.5, 'estimate (slope)', false], [977.4, 836.5, 'odds ratio', false],
  [18.2, 1033.9, 'intercept', true], [467, 1039, 'number of reviews', true],
  [808.4, 1171.5, 'specialties', false]
].forEach(([x, y, t, r]) => elements.push(textEl(x, y, t, {align: 'center', va: 'middle', rotate: r})));

// ======== legend of panel C
elements.push({type: 'rect', z: 1, silent: true, shape: {x: 457, y: 636.5, width: 100, height: 95.5}, style: {fill: '#ffffff'}});
[[GREEN, 654.3, 'less\nbias', 655.3], [PINK, 694, 'more\nbias', 695], [GREY, 723.3, 'n.s.', 725]].forEach(([c, y, t, ty]) => {
  elements.push({type: 'line', z: 20, silent: true, shape: {x1: 459.3, y1: y, x2: 489.3, y2: y}, style: {stroke: c, lineWidth: 1.8}});
  elements.push({type: 'circle', z: 21, silent: true, shape: {cx: 474.3, cy: y, r: 5.5}, style: {fill: c}});
  elements.push(textEl(505, ty, t, {va: 'middle', lineHeight: 22.7}));
});

// ======== legend of panel F
elements.push({type: 'rect', z: 1, silent: true, shape: {x: 782, y: 920, width: 258, height: 57}, style: {fill: '#ffffff'}});
elements.push({type: 'rect', z: 20, silent: true, shape: {x: 786, y: 924, width: 21.7, height: 27.7}, style: {fill: PINK}});
elements.push({type: 'rect', z: 20, silent: true, shape: {x: 786, y: 953.3, width: 21.7, height: 23.4}, style: {fill: GREEN}});
elements.push(textEl(821.7, 939, 'small-study effects & probable\npublication bias', {size: 15.4, va: 'middle', lineHeight: 16.6}));
elements.push(textEl(821.7, 966.7, 'small-study effects', {size: 15.4, va: 'middle'}));

const chart = echarts.init(document.getElementById('chart'), null, {renderer: 'canvas'});
chart.setOption({
  backgroundColor: '#ffffff',
  animation: false,
  textStyle: {fontFamily: FONT},
  grid: grids,
  xAxis: xAxes,
  yAxis: yAxes,
  series: series,
  graphic: {elements: elements}
});
</script>
</body>
</html>
